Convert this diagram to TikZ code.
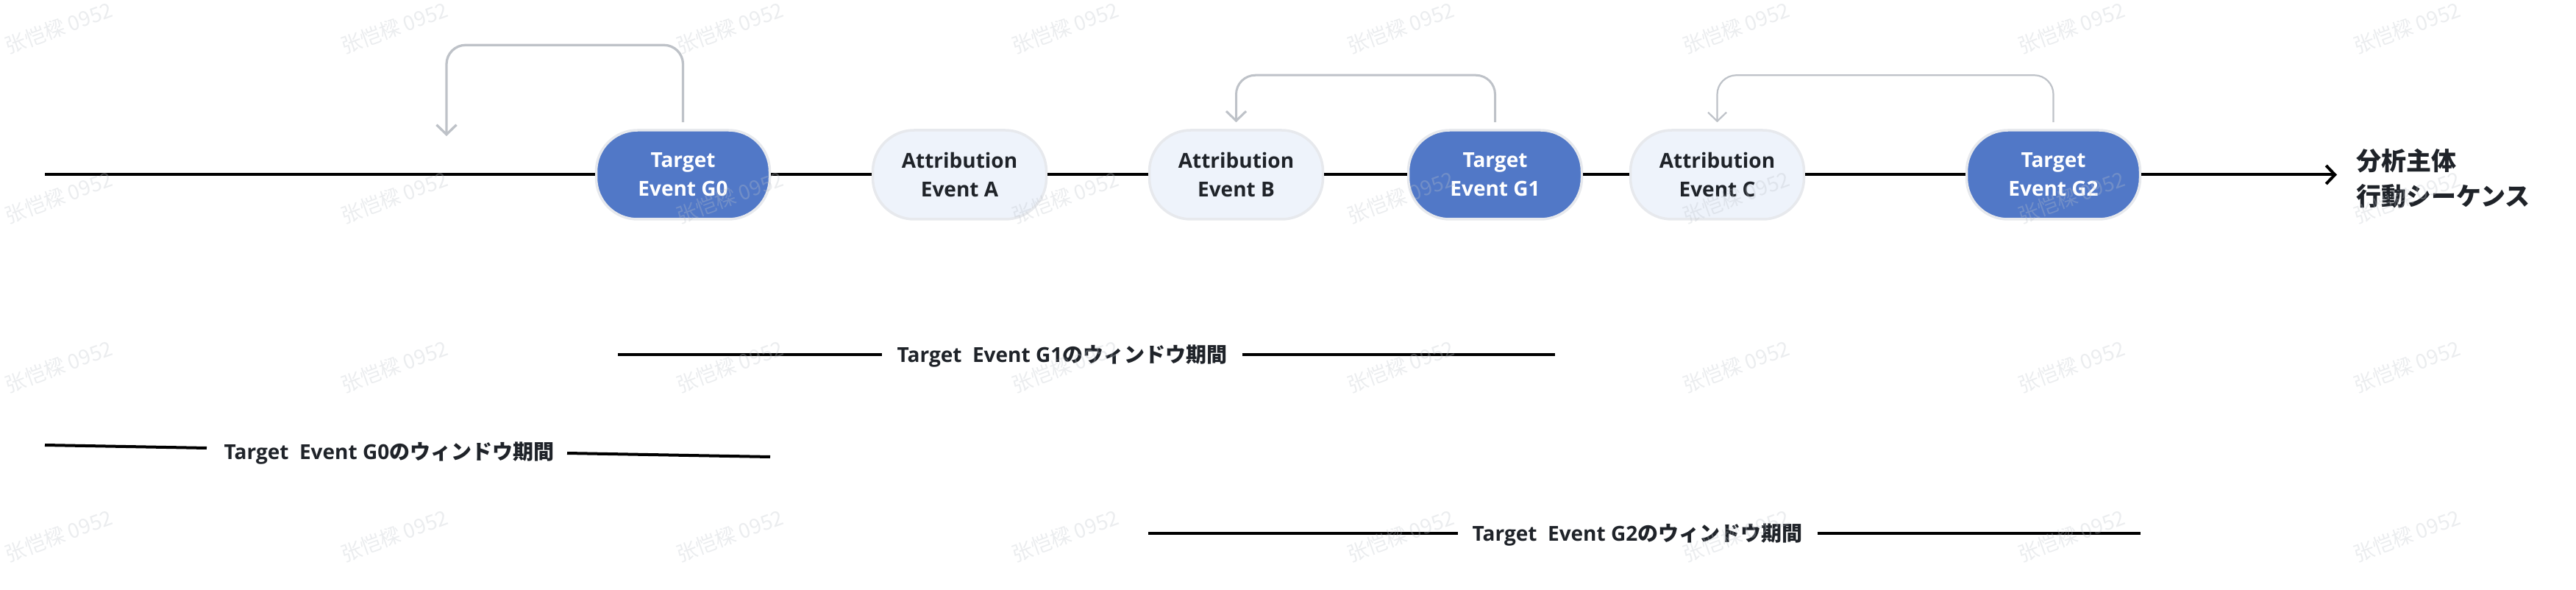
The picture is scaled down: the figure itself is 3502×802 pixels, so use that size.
\documentclass[tikz,border=0pt]{standalone}
\usepackage{fontspec}
\usetikzlibrary{arrows.meta}
\newfontfamily\latf{Open Sans}
\newfontfamily\jpf{Noto Sans CJK JP}
\newfontfamily\wmf{Noto Sans CJK SC}
\definecolor{tgt}{RGB}{81,120,199}
\definecolor{attr}{RGB}{238,243,251}
\definecolor{ring}{RGB}{231,233,237}
\definecolor{ink}{RGB}{31,35,41}
\definecolor{fbc}{RGB}{190,194,200}
\definecolor{wmc}{RGB}{190,195,202}
\begin{document}
\begin{tikzpicture}[x=1pt,y=-1pt,
  evbox/.style={rounded corners=56pt, minimum width=236pt, minimum height=121pt,
    line width=3.5pt, draw=ring, align=center, inner sep=0pt,
    font=\fontsize{28}{39}\selectfont\latf\bfseries},
  tgtbox/.style={evbox, fill=tgt, text=white},
  attrbox/.style={evbox, fill=attr, text=ink},
  mainline/.style={line width=4pt, draw=black},
  fbline/.style={line width=3.3pt, draw=fbc, rounded corners=26pt,
    -{Straight Barb[length=13pt,width=27pt]}},
  winline/.style={line width=4pt, draw=black},
  winlabel/.style={text=ink, inner xsep=20pt, inner ysep=2pt,
    font=\fontsize{28}{34}\selectfont},
  sidelabel/.style={text=ink, align=left, anchor=west, inner sep=0pt,
    font=\fontsize{34}{48}\selectfont\jpf\bfseries},
  wmark/.style={text=wmc, opacity=0.3, rotate=20,
    font=\fontsize{28}{30}\selectfont\wmf}
]
\useasboundingbox (0,0) rectangle (3502,802);

% main timeline nodes
\node[tgtbox]  (G0) at (928.5,237.5) {Target\\Event G0};
\node[attrbox] (A)  at (1304.5,237.5) {Attribution\\Event A};
\node[attrbox] (B)  at (1680.5,237.5) {Attribution\\Event B};
\node[tgtbox]  (G1) at (2032.5,237.5) {Target\\Event G1};
\node[attrbox] (C)  at (2334.5,237.5) {Attribution\\Event C};
\node[tgtbox]  (G2) at (2791.5,237.5) {Target\\Event G2};

\coordinate (m0) at (61,237.5);
\coordinate (m1) at (3177,237.5);

\draw[mainline] (m0) -- (G0);
\draw[mainline] (G0) -- (A);
\draw[mainline] (A) -- (B);
\draw[mainline] (B) -- (G1);
\draw[mainline] (G1) -- (C);
\draw[mainline] (C) -- (G2);
\draw[mainline, -{Straight Barb[length=12pt,width=25pt]}] (G2) -- (m1);

\node[sidelabel] (side) at (3203,243) {分析主体\\行動シーケンス};

% feedback connectors
\coordinate (t0) at (607,185);
\draw[fbline] ([yshift=9pt]G0.north) -- ++(0,-105) -| (t0);
\draw[fbline, line width=3pt] ([yshift=9pt]G1.north) -- ++(0,-64) -| ([yshift=9pt]B.north);
\draw[fbline, line width=2.2pt, -{Straight Barb[length=12pt,width=25pt]}] ([yshift=9pt]G2.north) -- ++(0,-64) -| ([yshift=9pt]C.north);

% window periods
\node[winlabel] (wl1) at (1444,484) {{\latf\bfseries Target\ \ Event G1}{\jpf\bfseries のウィンドウ期間}};
\coordinate (w1a) at (840,482);
\coordinate (w1b) at (2114,482);
\draw[winline] (w1a) -- (wl1.west |- w1a);
\draw[winline] (wl1.east |- w1b) -- (w1b);

\node[winlabel] (wl0) at (529,616) {{\latf\bfseries Target\ \ Event G0}{\jpf\bfseries のウィンドウ期間}};
\coordinate (w0a) at (61,605);
\coordinate (w0b) at (281,609);
\coordinate (w0c) at (771,616);
\coordinate (w0d) at (1047,621);
\draw[winline] (w0a) -- (w0b);
\draw[winline] (w0c) -- (w0d);

\node[winlabel] (wl2) at (2226,727) {{\latf\bfseries Target\ \ Event G2}{\jpf\bfseries のウィンドウ期間}};
\coordinate (w2a) at (1561,725);
\coordinate (w2b) at (2910,725);
\draw[winline] (w2a) -- (wl2.west |- w2a);
\draw[winline] (wl2.east |- w2b) -- (w2b);

% watermarks
\foreach \i in {0,...,7}{
  \foreach \j in {0,...,3}{
    \node[wmark] (wm-\i-\j) at ({80+456*\i},{38+230*\j}) {张恺樑 0952};
  }
}
\end{tikzpicture}
\end{document}
